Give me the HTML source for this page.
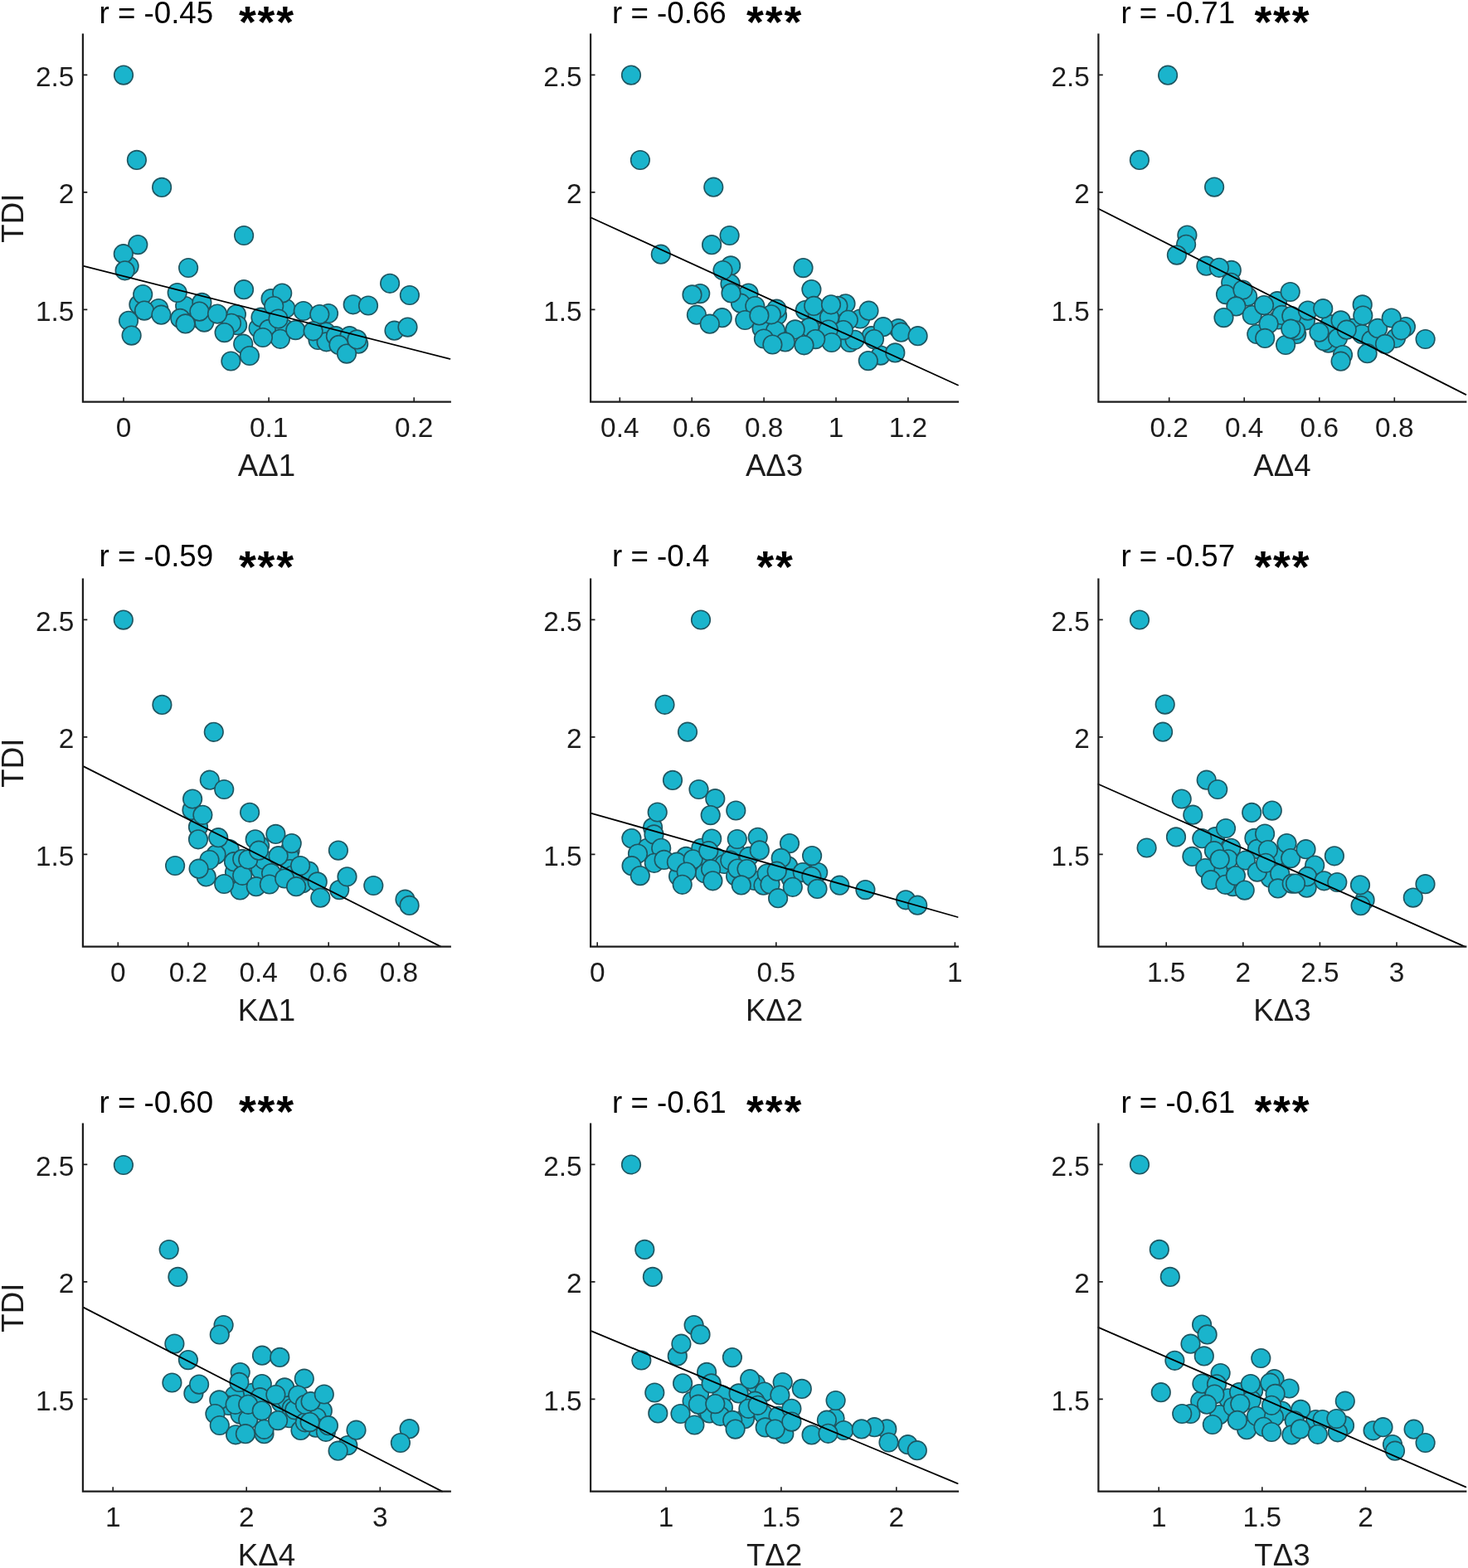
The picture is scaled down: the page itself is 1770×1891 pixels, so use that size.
<!DOCTYPE html><html><head><meta charset="utf-8"><style>html,body{margin:0;padding:0;background:#fff;}svg{display:block}</style></head><body>
<svg width="1770" height="1891" viewBox="0 0 1770 1891" font-family="'Liberation Sans', Arial, Helvetica, sans-serif">
<rect width="1770" height="1891" fill="#fff"/>
<g><g fill="#1ab4cc" stroke="#1f5560" stroke-width="1.6"><circle cx="155.6" cy="321.0" r="11.3"/><circle cx="167.4" cy="367.3" r="11.3"/><circle cx="191.2" cy="372.0" r="11.3"/><circle cx="223.2" cy="369.0" r="11.3"/><circle cx="243.4" cy="364.9" r="11.3"/><circle cx="284.9" cy="379.1" r="11.3"/><circle cx="286.1" cy="392.2" r="11.3"/><circle cx="279.0" cy="389.8" r="11.3"/><circle cx="217.3" cy="383.9" r="11.3"/><circle cx="242.2" cy="385.1" r="11.3"/><circle cx="246.3" cy="388.6" r="11.3"/><circle cx="311.6" cy="395.7" r="11.3"/><circle cx="314.5" cy="382.7" r="11.3"/><circle cx="326.6" cy="360.2" r="11.3"/><circle cx="344.4" cy="372.0" r="11.3"/><circle cx="324.2" cy="396.9" r="11.3"/><circle cx="343.2" cy="396.3" r="11.3"/><circle cx="396.0" cy="378.0" r="11.3"/><circle cx="383.5" cy="410.0" r="11.3"/><circle cx="393.0" cy="400.5" r="11.3"/><circle cx="393.6" cy="412.3" r="11.3"/><circle cx="404.9" cy="405.2" r="11.3"/><circle cx="432.2" cy="414.7" r="11.3"/><circle cx="421.5" cy="405.2" r="11.3"/><circle cx="149.0" cy="90.6" r="11.3"/><circle cx="164.9" cy="192.9" r="11.3"/><circle cx="195.1" cy="225.9" r="11.3"/><circle cx="166.3" cy="295.1" r="11.3"/><circle cx="148.8" cy="306.2" r="11.3"/><circle cx="294.1" cy="284.0" r="11.3"/><circle cx="150.6" cy="326.3" r="11.3"/><circle cx="227.1" cy="323.0" r="11.3"/><circle cx="294.0" cy="349.2" r="11.3"/><circle cx="172.2" cy="355.1" r="11.3"/><circle cx="213.7" cy="353.0" r="11.3"/><circle cx="174.0" cy="374.6" r="11.3"/><circle cx="194.4" cy="379.7" r="11.3"/><circle cx="240.4" cy="375.6" r="11.3"/><circle cx="262.0" cy="378.6" r="11.3"/><circle cx="270.6" cy="401.1" r="11.3"/><circle cx="223.6" cy="390.4" r="11.3"/><circle cx="155.0" cy="386.8" r="11.3"/><circle cx="158.6" cy="404.6" r="11.3"/><circle cx="293.2" cy="414.7" r="11.3"/><circle cx="300.9" cy="429.0" r="11.3"/><circle cx="278.4" cy="435.5" r="11.3"/><circle cx="340.2" cy="353.6" r="11.3"/><circle cx="330.2" cy="369.1" r="11.3"/><circle cx="335.5" cy="384.5" r="11.3"/><circle cx="337.9" cy="408.8" r="11.3"/><circle cx="356.3" cy="398.1" r="11.3"/><circle cx="365.8" cy="375.0" r="11.3"/><circle cx="385.3" cy="379.1" r="11.3"/><circle cx="408.5" cy="415.9" r="11.3"/><circle cx="418.0" cy="426.6" r="11.3"/><circle cx="430.4" cy="409.4" r="11.3"/><circle cx="425.7" cy="367.3" r="11.3"/><circle cx="444.0" cy="368.5" r="11.3"/><circle cx="470.1" cy="341.8" r="11.3"/><circle cx="493.9" cy="356.0" r="11.3"/><circle cx="475.5" cy="398.7" r="11.3"/><circle cx="491.5" cy="394.6" r="11.3"/><circle cx="316.9" cy="407.0" r="11.3"/><circle cx="377.6" cy="399.3" r="11.3"/></g><line x1="99.9" y1="320.6" x2="542.4" y2="432.8" stroke="#000" stroke-width="1.8" stroke-linecap="round"/><path d="M99.9 40.6V484.6H543.9" fill="none" stroke="#1c1c1c" stroke-width="2.2" stroke-linecap="butt"/><path d="M99.9 90.4h5.4M99.9 231.9h5.4M99.9 373.4h5.4M149.0 484.6v-5.4M324.1 484.6v-5.4M499.2 484.6v-5.4" stroke="#1c1c1c" stroke-width="1.6" fill="none"/><text x="89.4" y="103.8" font-size="33.4" fill="#1c1c1c" text-anchor="end">2.5</text><text x="89.4" y="245.3" font-size="33.4" fill="#1c1c1c" text-anchor="end">2</text><text x="89.4" y="386.8" font-size="33.4" fill="#1c1c1c" text-anchor="end">1.5</text><text x="149.0" y="527.3" font-size="33.4" fill="#1c1c1c" text-anchor="middle">0</text><text x="324.1" y="527.3" font-size="33.4" fill="#1c1c1c" text-anchor="middle">0.1</text><text x="499.2" y="527.3" font-size="33.4" fill="#1c1c1c" text-anchor="middle">0.2</text><text x="321.4" y="573.6" font-size="36.7" fill="#1c1c1c" text-anchor="middle">AΔ1</text><text transform="translate(27.6 263.2) rotate(-90)" font-size="36.7" fill="#1c1c1c" text-anchor="middle">TDI</text><text x="119.5" y="27.6" font-size="36.7" fill="#000">r = -0.45</text><text x="287.9" y="45.0" font-size="53.5" letter-spacing="1.9" font-weight="bold" fill="#000">***</text></g>
<g><g fill="#1ab4cc" stroke="#1f5560" stroke-width="1.6"><circle cx="881.1" cy="320.4" r="11.3"/><circle cx="880.5" cy="342.2" r="11.3"/><circle cx="902.5" cy="353.6" r="11.3"/><circle cx="844.2" cy="354.1" r="11.3"/><circle cx="893.0" cy="365.7" r="11.3"/><circle cx="937.0" cy="380.4" r="11.3"/><circle cx="936.4" cy="372.7" r="11.3"/><circle cx="918.6" cy="396.0" r="11.3"/><circle cx="935.1" cy="398.8" r="11.3"/><circle cx="970.8" cy="374.1" r="11.3"/><circle cx="985.8" cy="379.3" r="11.3"/><circle cx="1019.5" cy="366.3" r="11.3"/><circle cx="1010.4" cy="368.9" r="11.3"/><circle cx="1037.1" cy="384.5" r="11.3"/><circle cx="1083.2" cy="396.2" r="11.3"/><circle cx="1050.7" cy="405.2" r="11.3"/><circle cx="1024.7" cy="413.0" r="11.3"/><circle cx="1000.0" cy="383.0" r="11.3"/><circle cx="976.0" cy="394.9" r="11.3"/><circle cx="920.9" cy="408.5" r="11.3"/><circle cx="1061.8" cy="428.6" r="11.3"/><circle cx="761.0" cy="90.6" r="11.3"/><circle cx="771.9" cy="193.0" r="11.3"/><circle cx="860.3" cy="225.7" r="11.3"/><circle cx="879.6" cy="284.0" r="11.3"/><circle cx="858.1" cy="295.2" r="11.3"/><circle cx="796.8" cy="306.7" r="11.3"/><circle cx="871.5" cy="326.0" r="11.3"/><circle cx="881.5" cy="353.4" r="11.3"/><circle cx="834.5" cy="355.4" r="11.3"/><circle cx="910.3" cy="369.0" r="11.3"/><circle cx="929.9" cy="379.3" r="11.3"/><circle cx="839.9" cy="379.7" r="11.3"/><circle cx="870.7" cy="383.2" r="11.3"/><circle cx="855.8" cy="390.7" r="11.3"/><circle cx="898.3" cy="386.0" r="11.3"/><circle cx="958.7" cy="397.4" r="11.3"/><circle cx="968.5" cy="323.1" r="11.3"/><circle cx="978.4" cy="349.1" r="11.3"/><circle cx="981.2" cy="368.9" r="11.3"/><circle cx="1002.0" cy="367.3" r="11.3"/><circle cx="1022.8" cy="385.8" r="11.3"/><circle cx="1047.5" cy="374.7" r="11.3"/><circle cx="1065.0" cy="394.2" r="11.3"/><circle cx="1086.5" cy="400.7" r="11.3"/><circle cx="1106.6" cy="405.2" r="11.3"/><circle cx="1054.0" cy="409.1" r="11.3"/><circle cx="1030.6" cy="409.8" r="11.3"/><circle cx="1016.9" cy="398.1" r="11.3"/><circle cx="998.8" cy="397.5" r="11.3"/><circle cx="1002.7" cy="413.0" r="11.3"/><circle cx="983.2" cy="409.1" r="11.3"/><circle cx="969.5" cy="416.3" r="11.3"/><circle cx="946.8" cy="412.4" r="11.3"/><circle cx="931.4" cy="415.5" r="11.3"/><circle cx="1046.8" cy="435.1" r="11.3"/><circle cx="1079.3" cy="425.4" r="11.3"/><circle cx="915.4" cy="380.4" r="11.3"/></g><line x1="712.1" y1="262.2" x2="1155.0" y2="464.5" stroke="#000" stroke-width="1.8" stroke-linecap="round"/><path d="M712.1 40.6V484.6H1156.1" fill="none" stroke="#1c1c1c" stroke-width="2.2" stroke-linecap="butt"/><path d="M712.1 90.4h5.4M712.1 231.9h5.4M712.1 373.4h5.4M747.3 484.6v-5.4M834.2 484.6v-5.4M921.1 484.6v-5.4M1008.0 484.6v-5.4M1094.9 484.6v-5.4" stroke="#1c1c1c" stroke-width="1.6" fill="none"/><text x="701.6" y="103.8" font-size="33.4" fill="#1c1c1c" text-anchor="end">2.5</text><text x="701.6" y="245.3" font-size="33.4" fill="#1c1c1c" text-anchor="end">2</text><text x="701.6" y="386.8" font-size="33.4" fill="#1c1c1c" text-anchor="end">1.5</text><text x="747.3" y="527.3" font-size="33.4" fill="#1c1c1c" text-anchor="middle">0.4</text><text x="834.2" y="527.3" font-size="33.4" fill="#1c1c1c" text-anchor="middle">0.6</text><text x="921.1" y="527.3" font-size="33.4" fill="#1c1c1c" text-anchor="middle">0.8</text><text x="1008.0" y="527.3" font-size="33.4" fill="#1c1c1c" text-anchor="middle">1</text><text x="1094.9" y="527.3" font-size="33.4" fill="#1c1c1c" text-anchor="middle">1.2</text><text x="933.6" y="573.6" font-size="36.7" fill="#1c1c1c" text-anchor="middle">AΔ3</text><text x="738.1" y="27.6" font-size="36.7" fill="#000">r = -0.66</text><text x="900.1" y="45.0" font-size="53.5" letter-spacing="1.9" font-weight="bold" fill="#000">***</text></g>
<g><g fill="#1ab4cc" stroke="#1f5560" stroke-width="1.6"><circle cx="1484.8" cy="325.9" r="11.3"/><circle cx="1484.2" cy="340.8" r="11.3"/><circle cx="1504.1" cy="357.6" r="11.3"/><circle cx="1540.1" cy="363.2" r="11.3"/><circle cx="1541.4" cy="385.5" r="11.3"/><circle cx="1515.3" cy="403.0" r="11.3"/><circle cx="1545.4" cy="379.9" r="11.3"/><circle cx="1563.2" cy="403.0" r="11.3"/><circle cx="1573.9" cy="386.4" r="11.3"/><circle cx="1601.8" cy="413.7" r="11.3"/><circle cx="1596.4" cy="411.3" r="11.3"/><circle cx="1603.5" cy="391.2" r="11.3"/><circle cx="1613.0" cy="407.8" r="11.3"/><circle cx="1619.0" cy="428.0" r="11.3"/><circle cx="1630.8" cy="395.9" r="11.3"/><circle cx="1642.1" cy="403.0" r="11.3"/><circle cx="1694.9" cy="394.1" r="11.3"/><circle cx="1683.0" cy="407.8" r="11.3"/><circle cx="1408.1" cy="90.7" r="11.3"/><circle cx="1373.9" cy="192.9" r="11.3"/><circle cx="1464.1" cy="225.6" r="11.3"/><circle cx="1431.4" cy="283.6" r="11.3"/><circle cx="1430.1" cy="294.8" r="11.3"/><circle cx="1418.9" cy="307.6" r="11.3"/><circle cx="1454.4" cy="320.7" r="11.3"/><circle cx="1469.9" cy="322.8" r="11.3"/><circle cx="1478.0" cy="355.1" r="11.3"/><circle cx="1498.5" cy="349.5" r="11.3"/><circle cx="1490.4" cy="369.4" r="11.3"/><circle cx="1475.5" cy="383.1" r="11.3"/><circle cx="1509.7" cy="380.0" r="11.3"/><circle cx="1524.0" cy="368.1" r="11.3"/><circle cx="1529.6" cy="390.5" r="11.3"/><circle cx="1525.2" cy="407.9" r="11.3"/><circle cx="1555.7" cy="352.0" r="11.3"/><circle cx="1557.3" cy="381.1" r="11.3"/><circle cx="1550.1" cy="416.0" r="11.3"/><circle cx="1562.0" cy="398.3" r="11.3"/><circle cx="1556.3" cy="396.7" r="11.3"/><circle cx="1576.9" cy="374.6" r="11.3"/><circle cx="1595.2" cy="372.2" r="11.3"/><circle cx="1590.5" cy="400.7" r="11.3"/><circle cx="1616.6" cy="386.4" r="11.3"/><circle cx="1623.7" cy="397.7" r="11.3"/><circle cx="1616.6" cy="435.7" r="11.3"/><circle cx="1642.7" cy="367.4" r="11.3"/><circle cx="1643.3" cy="380.5" r="11.3"/><circle cx="1653.4" cy="410.2" r="11.3"/><circle cx="1648.6" cy="426.2" r="11.3"/><circle cx="1661.1" cy="395.9" r="11.3"/><circle cx="1670.0" cy="414.9" r="11.3"/><circle cx="1677.7" cy="383.5" r="11.3"/><circle cx="1689.5" cy="398.3" r="11.3"/><circle cx="1718.6" cy="409.0" r="11.3"/></g><line x1="1324.4" y1="251.7" x2="1767.3" y2="475.9" stroke="#000" stroke-width="1.8" stroke-linecap="round"/><path d="M1324.4 40.6V484.6H1768.4" fill="none" stroke="#1c1c1c" stroke-width="2.2" stroke-linecap="butt"/><path d="M1324.4 90.4h5.4M1324.4 231.9h5.4M1324.4 373.4h5.4M1409.7 484.6v-5.4M1500.2 484.6v-5.4M1590.8 484.6v-5.4M1681.3 484.6v-5.4" stroke="#1c1c1c" stroke-width="1.6" fill="none"/><text x="1313.9" y="103.8" font-size="33.4" fill="#1c1c1c" text-anchor="end">2.5</text><text x="1313.9" y="245.3" font-size="33.4" fill="#1c1c1c" text-anchor="end">2</text><text x="1313.9" y="386.8" font-size="33.4" fill="#1c1c1c" text-anchor="end">1.5</text><text x="1409.7" y="527.3" font-size="33.4" fill="#1c1c1c" text-anchor="middle">0.2</text><text x="1500.2" y="527.3" font-size="33.4" fill="#1c1c1c" text-anchor="middle">0.4</text><text x="1590.8" y="527.3" font-size="33.4" fill="#1c1c1c" text-anchor="middle">0.6</text><text x="1681.3" y="527.3" font-size="33.4" fill="#1c1c1c" text-anchor="middle">0.8</text><text x="1545.9" y="573.6" font-size="36.7" fill="#1c1c1c" text-anchor="middle">AΔ4</text><text x="1351.4" y="27.6" font-size="36.7" fill="#000">r = -0.71</text><text x="1512.4" y="45.0" font-size="53.5" letter-spacing="1.9" font-weight="bold" fill="#000">***</text></g>
<g><g fill="#1ab4cc" stroke="#1f5560" stroke-width="1.6"><circle cx="231.5" cy="976.9" r="11.3"/><circle cx="239.0" cy="997.3" r="11.3"/><circle cx="276.6" cy="1024.1" r="11.3"/><circle cx="260.5" cy="1030.6" r="11.3"/><circle cx="248.7" cy="1057.4" r="11.3"/><circle cx="289.5" cy="1073.5" r="11.3"/><circle cx="283.0" cy="1052.0" r="11.3"/><circle cx="282.0" cy="1039.2" r="11.3"/><circle cx="292.2" cy="1035.9" r="11.3"/><circle cx="313.1" cy="1019.8" r="11.3"/><circle cx="314.2" cy="1048.8" r="11.3"/><circle cx="318.5" cy="1037.0" r="11.3"/><circle cx="349.6" cy="1025.7" r="11.3"/><circle cx="348.4" cy="1031.8" r="11.3"/><circle cx="349.9" cy="1048.0" r="11.3"/><circle cx="365.0" cy="1065.2" r="11.3"/><circle cx="372.5" cy="1050.7" r="11.3"/><circle cx="353.2" cy="1055.3" r="11.3"/><circle cx="488.5" cy="1084.7" r="11.3"/><circle cx="148.8" cy="747.6" r="11.3"/><circle cx="195.4" cy="849.9" r="11.3"/><circle cx="257.8" cy="882.8" r="11.3"/><circle cx="252.8" cy="940.7" r="11.3"/><circle cx="270.2" cy="952.0" r="11.3"/><circle cx="232.1" cy="963.5" r="11.3"/><circle cx="244.4" cy="982.8" r="11.3"/><circle cx="301.1" cy="979.8" r="11.3"/><circle cx="239.0" cy="1012.3" r="11.3"/><circle cx="263.2" cy="1010.2" r="11.3"/><circle cx="211.1" cy="1044.0" r="11.3"/><circle cx="252.5" cy="1037.0" r="11.3"/><circle cx="239.6" cy="1047.7" r="11.3"/><circle cx="270.2" cy="1066.0" r="11.3"/><circle cx="292.2" cy="1055.8" r="11.3"/><circle cx="299.2" cy="1036.5" r="11.3"/><circle cx="307.7" cy="1012.3" r="11.3"/><circle cx="312.0" cy="1025.7" r="11.3"/><circle cx="308.8" cy="1069.2" r="11.3"/><circle cx="327.1" cy="1053.1" r="11.3"/><circle cx="324.9" cy="1066.5" r="11.3"/><circle cx="332.4" cy="1005.9" r="11.3"/><circle cx="335.6" cy="1032.2" r="11.3"/><circle cx="351.7" cy="1017.1" r="11.3"/><circle cx="343.2" cy="1059.5" r="11.3"/><circle cx="357.1" cy="1069.2" r="11.3"/><circle cx="362.1" cy="1044.0" r="11.3"/><circle cx="382.7" cy="1063.4" r="11.3"/><circle cx="386.3" cy="1082.7" r="11.3"/><circle cx="407.9" cy="1025.6" r="11.3"/><circle cx="409.2" cy="1073.1" r="11.3"/><circle cx="418.5" cy="1057.3" r="11.3"/><circle cx="450.3" cy="1068.0" r="11.3"/><circle cx="493.6" cy="1091.9" r="11.3"/></g><line x1="99.9" y1="923.9" x2="531.0" y2="1141.4" stroke="#000" stroke-width="1.8" stroke-linecap="round"/><path d="M99.9 697.6V1141.6H543.9" fill="none" stroke="#1c1c1c" stroke-width="2.2" stroke-linecap="butt"/><path d="M99.9 747.4h5.4M99.9 888.9h5.4M99.9 1030.4h5.4M142.3 1141.6v-5.4M226.9 1141.6v-5.4M311.6 1141.6v-5.4M396.2 1141.6v-5.4M480.9 1141.6v-5.4" stroke="#1c1c1c" stroke-width="1.6" fill="none"/><text x="89.4" y="760.8" font-size="33.4" fill="#1c1c1c" text-anchor="end">2.5</text><text x="89.4" y="902.3" font-size="33.4" fill="#1c1c1c" text-anchor="end">2</text><text x="89.4" y="1043.8" font-size="33.4" fill="#1c1c1c" text-anchor="end">1.5</text><text x="142.3" y="1184.3" font-size="33.4" fill="#1c1c1c" text-anchor="middle">0</text><text x="226.9" y="1184.3" font-size="33.4" fill="#1c1c1c" text-anchor="middle">0.2</text><text x="311.6" y="1184.3" font-size="33.4" fill="#1c1c1c" text-anchor="middle">0.4</text><text x="396.2" y="1184.3" font-size="33.4" fill="#1c1c1c" text-anchor="middle">0.6</text><text x="480.9" y="1184.3" font-size="33.4" fill="#1c1c1c" text-anchor="middle">0.8</text><text x="321.4" y="1230.6" font-size="36.7" fill="#1c1c1c" text-anchor="middle">KΔ1</text><text transform="translate(27.6 920.2) rotate(-90)" font-size="36.7" fill="#1c1c1c" text-anchor="middle">TDI</text><text x="119.5" y="683.2" font-size="36.7" fill="#000">r = -0.59</text><text x="287.9" y="702.0" font-size="53.5" letter-spacing="1.9" font-weight="bold" fill="#000">***</text></g>
<g><g fill="#1ab4cc" stroke="#1f5560" stroke-width="1.6"><circle cx="787.1" cy="997.9" r="11.3"/><circle cx="780.3" cy="1022.8" r="11.3"/><circle cx="827.2" cy="1032.9" r="11.3"/><circle cx="818.1" cy="1056.7" r="11.3"/><circle cx="845.3" cy="1022.8" r="11.3"/><circle cx="863.3" cy="1034.1" r="11.3"/><circle cx="843.0" cy="1042.0" r="11.3"/><circle cx="849.8" cy="1053.3" r="11.3"/><circle cx="887.1" cy="1028.4" r="11.3"/><circle cx="873.5" cy="1042.0" r="11.3"/><circle cx="902.9" cy="1032.9" r="11.3"/><circle cx="887.1" cy="1056.7" r="11.3"/><circle cx="909.9" cy="1062.0" r="11.3"/><circle cx="920.5" cy="1067.7" r="11.3"/><circle cx="924.7" cy="1053.6" r="11.3"/><circle cx="950.1" cy="1044.4" r="11.3"/><circle cx="953.7" cy="1059.2" r="11.3"/><circle cx="986.2" cy="1052.1" r="11.3"/><circle cx="967.8" cy="1052.1" r="11.3"/><circle cx="845.0" cy="747.5" r="11.3"/><circle cx="801.5" cy="849.8" r="11.3"/><circle cx="829.0" cy="882.7" r="11.3"/><circle cx="811.0" cy="940.9" r="11.3"/><circle cx="842.5" cy="952.0" r="11.3"/><circle cx="862.3" cy="963.2" r="11.3"/><circle cx="856.7" cy="983.1" r="11.3"/><circle cx="887.3" cy="977.5" r="11.3"/><circle cx="792.7" cy="979.5" r="11.3"/><circle cx="788.5" cy="1006.4" r="11.3"/><circle cx="761.4" cy="1011.1" r="11.3"/><circle cx="769.0" cy="1029.5" r="11.3"/><circle cx="797.2" cy="1022.8" r="11.3"/><circle cx="761.6" cy="1044.2" r="11.3"/><circle cx="771.8" cy="1056.1" r="11.3"/><circle cx="788.8" cy="1040.8" r="11.3"/><circle cx="800.6" cy="1036.9" r="11.3"/><circle cx="815.9" cy="1039.7" r="11.3"/><circle cx="835.6" cy="1036.3" r="11.3"/><circle cx="827.7" cy="1051.6" r="11.3"/><circle cx="822.7" cy="1066.8" r="11.3"/><circle cx="858.2" cy="1011.5" r="11.3"/><circle cx="854.3" cy="1026.2" r="11.3"/><circle cx="857.1" cy="1048.2" r="11.3"/><circle cx="859.4" cy="1062.3" r="11.3"/><circle cx="888.8" cy="1012.0" r="11.3"/><circle cx="913.7" cy="1009.8" r="11.3"/><circle cx="915.8" cy="1025.4" r="11.3"/><circle cx="880.3" cy="1037.5" r="11.3"/><circle cx="889.3" cy="1047.6" r="11.3"/><circle cx="900.5" cy="1048.1" r="11.3"/><circle cx="893.8" cy="1067.4" r="11.3"/><circle cx="928.5" cy="1066.5" r="11.3"/><circle cx="938.1" cy="1083.2" r="11.3"/><circle cx="952.0" cy="1017.1" r="11.3"/><circle cx="941.7" cy="1034.9" r="11.3"/><circle cx="936.7" cy="1050.7" r="11.3"/><circle cx="955.8" cy="1069.8" r="11.3"/><circle cx="979.1" cy="1032.1" r="11.3"/><circle cx="978.4" cy="1057.1" r="11.3"/><circle cx="985.5" cy="1071.9" r="11.3"/><circle cx="1012.3" cy="1067.7" r="11.3"/><circle cx="1043.4" cy="1073.1" r="11.3"/><circle cx="1092.1" cy="1085.3" r="11.3"/><circle cx="1106.2" cy="1091.7" r="11.3"/></g><line x1="712.1" y1="980.6" x2="1154.6" y2="1106.0" stroke="#000" stroke-width="1.8" stroke-linecap="round"/><path d="M712.1 697.6V1141.6H1156.1" fill="none" stroke="#1c1c1c" stroke-width="2.2" stroke-linecap="butt"/><path d="M712.1 747.4h5.4M712.1 888.9h5.4M712.1 1030.4h5.4M720.2 1141.6v-5.4M935.8 1141.6v-5.4M1151.4 1141.6v-5.4" stroke="#1c1c1c" stroke-width="1.6" fill="none"/><text x="701.6" y="760.8" font-size="33.4" fill="#1c1c1c" text-anchor="end">2.5</text><text x="701.6" y="902.3" font-size="33.4" fill="#1c1c1c" text-anchor="end">2</text><text x="701.6" y="1043.8" font-size="33.4" fill="#1c1c1c" text-anchor="end">1.5</text><text x="720.2" y="1184.3" font-size="33.4" fill="#1c1c1c" text-anchor="middle">0</text><text x="935.8" y="1184.3" font-size="33.4" fill="#1c1c1c" text-anchor="middle">0.5</text><text x="1151.4" y="1184.3" font-size="33.4" fill="#1c1c1c" text-anchor="middle">1</text><text x="933.6" y="1230.6" font-size="36.7" fill="#1c1c1c" text-anchor="middle">KΔ2</text><text x="738.1" y="683.2" font-size="36.7" fill="#000">r = -0.4</text><text x="912.3" y="702.0" font-size="53.5" letter-spacing="1.9" font-weight="bold" fill="#000">**</text></g>
<g><g fill="#1ab4cc" stroke="#1f5560" stroke-width="1.6"><circle cx="1465.1" cy="1009.2" r="11.3"/><circle cx="1484.3" cy="1022.8" r="11.3"/><circle cx="1480.9" cy="1036.3" r="11.3"/><circle cx="1468.5" cy="1049.9" r="11.3"/><circle cx="1486.6" cy="1069.1" r="11.3"/><circle cx="1512.4" cy="1010.9" r="11.3"/><circle cx="1515.9" cy="1023.9" r="11.3"/><circle cx="1540.4" cy="1031.8" r="11.3"/><circle cx="1531.8" cy="1058.9" r="11.3"/><circle cx="1546.4" cy="1064.6" r="11.3"/><circle cx="1580.7" cy="1053.8" r="11.3"/><circle cx="1575.6" cy="1070.7" r="11.3"/><circle cx="1645.6" cy="1085.4" r="11.3"/><circle cx="1374.0" cy="747.5" r="11.3"/><circle cx="1404.7" cy="849.6" r="11.3"/><circle cx="1402.1" cy="882.7" r="11.3"/><circle cx="1454.7" cy="940.7" r="11.3"/><circle cx="1468.2" cy="952.0" r="11.3"/><circle cx="1424.7" cy="963.5" r="11.3"/><circle cx="1438.3" cy="982.7" r="11.3"/><circle cx="1509.2" cy="979.9" r="11.3"/><circle cx="1533.8" cy="977.6" r="11.3"/><circle cx="1418.0" cy="1009.4" r="11.3"/><circle cx="1449.3" cy="1011.2" r="11.3"/><circle cx="1478.0" cy="999.0" r="11.3"/><circle cx="1382.6" cy="1022.5" r="11.3"/><circle cx="1437.4" cy="1032.9" r="11.3"/><circle cx="1464.0" cy="1026.2" r="11.3"/><circle cx="1453.2" cy="1047.1" r="11.3"/><circle cx="1460.0" cy="1061.2" r="11.3"/><circle cx="1470.7" cy="1036.3" r="11.3"/><circle cx="1477.5" cy="1066.8" r="11.3"/><circle cx="1489.9" cy="1056.1" r="11.3"/><circle cx="1500.7" cy="1073.6" r="11.3"/><circle cx="1501.8" cy="1037.5" r="11.3"/><circle cx="1525.1" cy="1005.5" r="11.3"/><circle cx="1528.9" cy="1025.0" r="11.3"/><circle cx="1515.9" cy="1051.6" r="11.3"/><circle cx="1526.1" cy="1040.8" r="11.3"/><circle cx="1543.2" cy="1053.6" r="11.3"/><circle cx="1540.8" cy="1071.4" r="11.3"/><circle cx="1551.5" cy="1017.1" r="11.3"/><circle cx="1556.2" cy="1035.1" r="11.3"/><circle cx="1557.7" cy="1065.7" r="11.3"/><circle cx="1574.5" cy="1024.2" r="11.3"/><circle cx="1585.2" cy="1043.6" r="11.3"/><circle cx="1576.2" cy="1057.2" r="11.3"/><circle cx="1562.0" cy="1065.6" r="11.3"/><circle cx="1596.5" cy="1062.3" r="11.3"/><circle cx="1612.3" cy="1064.0" r="11.3"/><circle cx="1608.9" cy="1032.3" r="11.3"/><circle cx="1640.0" cy="1067.3" r="11.3"/><circle cx="1640.6" cy="1092.2" r="11.3"/><circle cx="1703.8" cy="1082.6" r="11.3"/><circle cx="1718.5" cy="1066.2" r="11.3"/></g><line x1="1324.4" y1="945.8" x2="1765.6" y2="1141.4" stroke="#000" stroke-width="1.8" stroke-linecap="round"/><path d="M1324.4 697.6V1141.6H1768.4" fill="none" stroke="#1c1c1c" stroke-width="2.2" stroke-linecap="butt"/><path d="M1324.4 747.4h5.4M1324.4 888.9h5.4M1324.4 1030.4h5.4M1406.2 1141.6v-5.4M1498.8 1141.6v-5.4M1591.4 1141.6v-5.4M1684.0 1141.6v-5.4" stroke="#1c1c1c" stroke-width="1.6" fill="none"/><text x="1313.9" y="760.8" font-size="33.4" fill="#1c1c1c" text-anchor="end">2.5</text><text x="1313.9" y="902.3" font-size="33.4" fill="#1c1c1c" text-anchor="end">2</text><text x="1313.9" y="1043.8" font-size="33.4" fill="#1c1c1c" text-anchor="end">1.5</text><text x="1406.2" y="1184.3" font-size="33.4" fill="#1c1c1c" text-anchor="middle">1.5</text><text x="1498.8" y="1184.3" font-size="33.4" fill="#1c1c1c" text-anchor="middle">2</text><text x="1591.4" y="1184.3" font-size="33.4" fill="#1c1c1c" text-anchor="middle">2.5</text><text x="1684.0" y="1184.3" font-size="33.4" fill="#1c1c1c" text-anchor="middle">3</text><text x="1545.9" y="1230.6" font-size="36.7" fill="#1c1c1c" text-anchor="middle">KΔ3</text><text x="1351.4" y="683.2" font-size="36.7" fill="#000">r = -0.57</text><text x="1512.4" y="702.0" font-size="53.5" letter-spacing="1.9" font-weight="bold" fill="#000">***</text></g>
<g><g fill="#1ab4cc" stroke="#1f5560" stroke-width="1.6"><circle cx="269.6" cy="1598.0" r="11.3"/><circle cx="233.4" cy="1680.4" r="11.3"/><circle cx="289.7" cy="1655.1" r="11.3"/><circle cx="304.5" cy="1679.8" r="11.3"/><circle cx="338.9" cy="1691.6" r="11.3"/><circle cx="346.4" cy="1689.5" r="11.3"/><circle cx="283.0" cy="1683.0" r="11.3"/><circle cx="275.5" cy="1694.9" r="11.3"/><circle cx="289.5" cy="1705.6" r="11.3"/><circle cx="299.2" cy="1712.0" r="11.3"/><circle cx="318.5" cy="1729.2" r="11.3"/><circle cx="351.8" cy="1698.1" r="11.3"/><circle cx="348.9" cy="1710.2" r="11.3"/><circle cx="388.8" cy="1701.4" r="11.3"/><circle cx="355.3" cy="1700.3" r="11.3"/><circle cx="381.7" cy="1709.5" r="11.3"/><circle cx="380.7" cy="1721.7" r="11.3"/><circle cx="392.9" cy="1726.8" r="11.3"/><circle cx="419.3" cy="1743.1" r="11.3"/><circle cx="148.9" cy="1405.0" r="11.3"/><circle cx="203.7" cy="1507.0" r="11.3"/><circle cx="214.4" cy="1539.9" r="11.3"/><circle cx="264.8" cy="1609.5" r="11.3"/><circle cx="210.4" cy="1620.6" r="11.3"/><circle cx="226.9" cy="1640.1" r="11.3"/><circle cx="316.0" cy="1634.7" r="11.3"/><circle cx="337.3" cy="1636.9" r="11.3"/><circle cx="207.4" cy="1667.5" r="11.3"/><circle cx="240.1" cy="1669.6" r="11.3"/><circle cx="288.4" cy="1666.9" r="11.3"/><circle cx="315.8" cy="1669.1" r="11.3"/><circle cx="343.2" cy="1673.4" r="11.3"/><circle cx="366.8" cy="1662.7" r="11.3"/><circle cx="313.6" cy="1685.2" r="11.3"/><circle cx="332.4" cy="1682.0" r="11.3"/><circle cx="359.3" cy="1682.5" r="11.3"/><circle cx="264.3" cy="1688.4" r="11.3"/><circle cx="283.6" cy="1693.8" r="11.3"/><circle cx="299.2" cy="1693.8" r="11.3"/><circle cx="259.4" cy="1705.1" r="11.3"/><circle cx="315.8" cy="1701.3" r="11.3"/><circle cx="264.8" cy="1719.0" r="11.3"/><circle cx="284.1" cy="1730.3" r="11.3"/><circle cx="295.9" cy="1729.2" r="11.3"/><circle cx="318.5" cy="1723.8" r="11.3"/><circle cx="335.1" cy="1713.1" r="11.3"/><circle cx="362.5" cy="1724.9" r="11.3"/><circle cx="367.9" cy="1715.3" r="11.3"/><circle cx="367.9" cy="1693.8" r="11.3"/><circle cx="374.6" cy="1690.2" r="11.3"/><circle cx="390.8" cy="1681.5" r="11.3"/><circle cx="373.6" cy="1715.1" r="11.3"/><circle cx="395.9" cy="1719.2" r="11.3"/><circle cx="429.5" cy="1724.7" r="11.3"/><circle cx="407.6" cy="1749.7" r="11.3"/><circle cx="493.6" cy="1723.2" r="11.3"/><circle cx="482.9" cy="1740.0" r="11.3"/></g><line x1="99.9" y1="1576.4" x2="533.1" y2="1798.6" stroke="#000" stroke-width="1.8" stroke-linecap="round"/><path d="M99.9 1354.6V1798.6H543.9" fill="none" stroke="#1c1c1c" stroke-width="2.2" stroke-linecap="butt"/><path d="M99.9 1404.4h5.4M99.9 1545.9h5.4M99.9 1687.4h5.4M136.2 1798.6v-5.4M297.2 1798.6v-5.4M458.3 1798.6v-5.4" stroke="#1c1c1c" stroke-width="1.6" fill="none"/><text x="89.4" y="1417.8" font-size="33.4" fill="#1c1c1c" text-anchor="end">2.5</text><text x="89.4" y="1559.3" font-size="33.4" fill="#1c1c1c" text-anchor="end">2</text><text x="89.4" y="1700.8" font-size="33.4" fill="#1c1c1c" text-anchor="end">1.5</text><text x="136.2" y="1841.3" font-size="33.4" fill="#1c1c1c" text-anchor="middle">1</text><text x="297.2" y="1841.3" font-size="33.4" fill="#1c1c1c" text-anchor="middle">2</text><text x="458.3" y="1841.3" font-size="33.4" fill="#1c1c1c" text-anchor="middle">3</text><text x="321.4" y="1887.6" font-size="36.7" fill="#1c1c1c" text-anchor="middle">KΔ4</text><text transform="translate(27.6 1577.2) rotate(-90)" font-size="36.7" fill="#1c1c1c" text-anchor="middle">TDI</text><text x="119.5" y="1341.9" font-size="36.7" fill="#000">r = -0.60</text><text x="287.9" y="1359.0" font-size="53.5" letter-spacing="1.9" font-weight="bold" fill="#000">***</text></g>
<g><g fill="#1ab4cc" stroke="#1f5560" stroke-width="1.6"><circle cx="836.6" cy="1598.1" r="11.3"/><circle cx="816.8" cy="1635.4" r="11.3"/><circle cx="852.1" cy="1654.9" r="11.3"/><circle cx="834.6" cy="1689.7" r="11.3"/><circle cx="843.0" cy="1681.1" r="11.3"/><circle cx="850.4" cy="1698.8" r="11.3"/><circle cx="855.5" cy="1704.4" r="11.3"/><circle cx="870.6" cy="1682.3" r="11.3"/><circle cx="871.9" cy="1697.6" r="11.3"/><circle cx="868.5" cy="1707.8" r="11.3"/><circle cx="897.9" cy="1711.2" r="11.3"/><circle cx="890.6" cy="1680.4" r="11.3"/><circle cx="911.0" cy="1669.0" r="11.3"/><circle cx="921.7" cy="1678.6" r="11.3"/><circle cx="910.3" cy="1689.7" r="11.3"/><circle cx="902.4" cy="1698.8" r="11.3"/><circle cx="920.5" cy="1705.5" r="11.3"/><circle cx="938.5" cy="1707.8" r="11.3"/><circle cx="945.3" cy="1729.3" r="11.3"/><circle cx="943.7" cy="1667.0" r="11.3"/><circle cx="1006.6" cy="1710.5" r="11.3"/><circle cx="1017.3" cy="1725.0" r="11.3"/><circle cx="1069.3" cy="1723.4" r="11.3"/><circle cx="1054.3" cy="1721.2" r="11.3"/><circle cx="1094.6" cy="1742.2" r="11.3"/><circle cx="761.0" cy="1404.5" r="11.3"/><circle cx="777.3" cy="1506.9" r="11.3"/><circle cx="786.9" cy="1539.9" r="11.3"/><circle cx="844.5" cy="1609.4" r="11.3"/><circle cx="821.4" cy="1620.7" r="11.3"/><circle cx="773.3" cy="1640.5" r="11.3"/><circle cx="882.9" cy="1637.1" r="11.3"/><circle cx="857.6" cy="1668.4" r="11.3"/><circle cx="823.1" cy="1668.3" r="11.3"/><circle cx="789.3" cy="1679.5" r="11.3"/><circle cx="793.3" cy="1704.4" r="11.3"/><circle cx="820.5" cy="1705.0" r="11.3"/><circle cx="837.4" cy="1718.5" r="11.3"/><circle cx="841.9" cy="1693.7" r="11.3"/><circle cx="862.3" cy="1693.1" r="11.3"/><circle cx="883.2" cy="1712.9" r="11.3"/><circle cx="886.6" cy="1723.6" r="11.3"/><circle cx="904.2" cy="1663.2" r="11.3"/><circle cx="913.7" cy="1694.8" r="11.3"/><circle cx="922.7" cy="1721.4" r="11.3"/><circle cx="934.6" cy="1723.6" r="11.3"/><circle cx="940.4" cy="1682.5" r="11.3"/><circle cx="954.4" cy="1698.8" r="11.3"/><circle cx="954.4" cy="1714.6" r="11.3"/><circle cx="966.8" cy="1674.9" r="11.3"/><circle cx="978.6" cy="1730.4" r="11.3"/><circle cx="1007.6" cy="1689.0" r="11.3"/><circle cx="996.9" cy="1712.7" r="11.3"/><circle cx="998.5" cy="1728.8" r="11.3"/><circle cx="1038.8" cy="1723.4" r="11.3"/><circle cx="1071.5" cy="1739.5" r="11.3"/><circle cx="1105.8" cy="1749.2" r="11.3"/></g><line x1="712.1" y1="1604.8" x2="1154.6" y2="1789.1" stroke="#000" stroke-width="1.8" stroke-linecap="round"/><path d="M712.1 1354.6V1798.6H1156.1" fill="none" stroke="#1c1c1c" stroke-width="2.2" stroke-linecap="butt"/><path d="M712.1 1404.4h5.4M712.1 1545.9h5.4M712.1 1687.4h5.4M803.0 1798.6v-5.4M941.9 1798.6v-5.4M1080.8 1798.6v-5.4" stroke="#1c1c1c" stroke-width="1.6" fill="none"/><text x="701.6" y="1417.8" font-size="33.4" fill="#1c1c1c" text-anchor="end">2.5</text><text x="701.6" y="1559.3" font-size="33.4" fill="#1c1c1c" text-anchor="end">2</text><text x="701.6" y="1700.8" font-size="33.4" fill="#1c1c1c" text-anchor="end">1.5</text><text x="803.0" y="1841.3" font-size="33.4" fill="#1c1c1c" text-anchor="middle">1</text><text x="941.9" y="1841.3" font-size="33.4" fill="#1c1c1c" text-anchor="middle">1.5</text><text x="1080.8" y="1841.3" font-size="33.4" fill="#1c1c1c" text-anchor="middle">2</text><text x="933.6" y="1887.6" font-size="36.7" fill="#1c1c1c" text-anchor="middle">TΔ2</text><text x="738.1" y="1341.9" font-size="36.7" fill="#000">r = -0.61</text><text x="900.1" y="1359.0" font-size="53.5" letter-spacing="1.9" font-weight="bold" fill="#000">***</text></g>
<g><g fill="#1ab4cc" stroke="#1f5560" stroke-width="1.6"><circle cx="1449.1" cy="1597.5" r="11.3"/><circle cx="1471.6" cy="1656.0" r="11.3"/><circle cx="1447.2" cy="1689.7" r="11.3"/><circle cx="1435.4" cy="1705.0" r="11.3"/><circle cx="1470.4" cy="1706.1" r="11.3"/><circle cx="1480.6" cy="1686.3" r="11.3"/><circle cx="1494.1" cy="1679.0" r="11.3"/><circle cx="1486.8" cy="1696.5" r="11.3"/><circle cx="1511.1" cy="1677.3" r="11.3"/><circle cx="1508.8" cy="1688.6" r="11.3"/><circle cx="1503.2" cy="1724.2" r="11.3"/><circle cx="1515.0" cy="1707.8" r="11.3"/><circle cx="1536.5" cy="1663.2" r="11.3"/><circle cx="1545.5" cy="1701.6" r="11.3"/><circle cx="1535.9" cy="1708.9" r="11.3"/><circle cx="1586.4" cy="1712.0" r="11.3"/><circle cx="1621.0" cy="1719.2" r="11.3"/><circle cx="1612.9" cy="1727.3" r="11.3"/><circle cx="1655.6" cy="1725.3" r="11.3"/><circle cx="1679.0" cy="1742.0" r="11.3"/><circle cx="1374.0" cy="1404.5" r="11.3"/><circle cx="1397.8" cy="1506.9" r="11.3"/><circle cx="1410.8" cy="1539.9" r="11.3"/><circle cx="1455.6" cy="1609.4" r="11.3"/><circle cx="1435.5" cy="1620.7" r="11.3"/><circle cx="1451.8" cy="1635.4" r="11.3"/><circle cx="1416.4" cy="1640.8" r="11.3"/><circle cx="1520.3" cy="1638.0" r="11.3"/><circle cx="1449.4" cy="1668.7" r="11.3"/><circle cx="1467.0" cy="1669.3" r="11.3"/><circle cx="1399.8" cy="1679.2" r="11.3"/><circle cx="1464.4" cy="1681.5" r="11.3"/><circle cx="1455.1" cy="1693.7" r="11.3"/><circle cx="1425.2" cy="1705.0" r="11.3"/><circle cx="1461.9" cy="1718.0" r="11.3"/><circle cx="1495.3" cy="1693.1" r="11.3"/><circle cx="1507.9" cy="1669.0" r="11.3"/><circle cx="1491.9" cy="1712.9" r="11.3"/><circle cx="1523.5" cy="1720.8" r="11.3"/><circle cx="1533.1" cy="1727.0" r="11.3"/><circle cx="1531.4" cy="1667.7" r="11.3"/><circle cx="1554.6" cy="1674.5" r="11.3"/><circle cx="1537.6" cy="1680.9" r="11.3"/><circle cx="1533.1" cy="1694.8" r="11.3"/><circle cx="1568.3" cy="1699.9" r="11.3"/><circle cx="1560.8" cy="1713.4" r="11.3"/><circle cx="1557.4" cy="1730.4" r="11.3"/><circle cx="1567.8" cy="1723.4" r="11.3"/><circle cx="1594.6" cy="1712.0" r="11.3"/><circle cx="1588.8" cy="1729.8" r="11.3"/><circle cx="1611.4" cy="1711.0" r="11.3"/><circle cx="1621.8" cy="1689.7" r="11.3"/><circle cx="1667.5" cy="1721.2" r="11.3"/><circle cx="1682.0" cy="1749.7" r="11.3"/><circle cx="1704.6" cy="1723.7" r="11.3"/><circle cx="1718.6" cy="1740.0" r="11.3"/></g><line x1="1324.4" y1="1600.8" x2="1767.3" y2="1793.4" stroke="#000" stroke-width="1.8" stroke-linecap="round"/><path d="M1324.4 1354.6V1798.6H1768.4" fill="none" stroke="#1c1c1c" stroke-width="2.2" stroke-linecap="butt"/><path d="M1324.4 1404.4h5.4M1324.4 1545.9h5.4M1324.4 1687.4h5.4M1397.2 1798.6v-5.4M1521.8 1798.6v-5.4M1646.5 1798.6v-5.4" stroke="#1c1c1c" stroke-width="1.6" fill="none"/><text x="1313.9" y="1417.8" font-size="33.4" fill="#1c1c1c" text-anchor="end">2.5</text><text x="1313.9" y="1559.3" font-size="33.4" fill="#1c1c1c" text-anchor="end">2</text><text x="1313.9" y="1700.8" font-size="33.4" fill="#1c1c1c" text-anchor="end">1.5</text><text x="1397.2" y="1841.3" font-size="33.4" fill="#1c1c1c" text-anchor="middle">1</text><text x="1521.8" y="1841.3" font-size="33.4" fill="#1c1c1c" text-anchor="middle">1.5</text><text x="1646.5" y="1841.3" font-size="33.4" fill="#1c1c1c" text-anchor="middle">2</text><text x="1545.9" y="1887.6" font-size="36.7" fill="#1c1c1c" text-anchor="middle">TΔ3</text><text x="1351.4" y="1341.9" font-size="36.7" fill="#000">r = -0.61</text><text x="1512.4" y="1359.0" font-size="53.5" letter-spacing="1.9" font-weight="bold" fill="#000">***</text></g>
</svg></body></html>
